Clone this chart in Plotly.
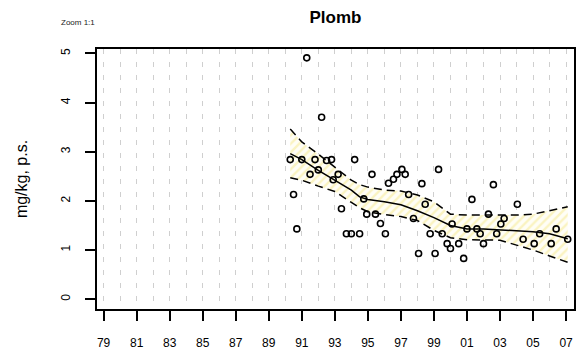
import plotly.graph_objects as go

# observations (decimal year, mg/kg p.s.)
obs_year = [1990.3, 1990.5, 1990.7, 1991.0, 1991.3, 1991.5, 1991.8, 1992.0, 1992.2, 1992.5,
            1992.8, 1992.9, 1993.2, 1993.4, 1993.7, 1994.0, 1994.2, 1994.5, 1994.75, 1994.93,
            1995.25, 1995.46, 1995.76, 1996.06, 1996.25, 1996.55, 1996.76, 1997.06, 1997.26, 1997.47,
            1997.76, 1998.07, 1998.27, 1998.47, 1998.77, 1999.07, 1999.28, 1999.5, 1999.8, 2000.0,
            2000.1, 2000.5, 2000.8, 2001.0, 2001.3, 2001.6, 2001.8, 2002.0, 2002.3, 2002.6,
            2002.8, 2003.05, 2003.25, 2004.05, 2004.4, 2005.07, 2005.4, 2006.1, 2006.4, 2007.1]
obs_value = [2.84, 2.13, 1.43, 2.84, 4.91, 2.54, 2.84, 2.63, 3.70, 2.82,
             2.84, 2.43, 2.54, 1.84, 1.33, 1.33, 2.84, 1.33, 2.04, 1.73,
             2.54, 1.73, 1.54, 1.33, 2.36, 2.44, 2.54, 2.64, 2.54, 2.13,
             1.64, 0.93, 2.35, 1.93, 1.33, 0.93, 2.64, 1.33, 1.13, 1.03,
             1.53, 1.13, 0.83, 1.43, 2.03, 1.43, 1.33, 1.13, 1.73, 2.33,
             1.33, 1.53, 1.64, 1.93, 1.22, 1.13, 1.33, 1.13, 1.43, 1.22]

# smoothed trend and confidence band
fit_year = [1990.3, 1991.0, 1992.0, 1993.0, 1994.0, 1994.5, 1995.0, 1996.0, 1997.0, 1998.0,
            1999.0, 2000.0, 2001.0, 2002.0, 2003.0, 2004.0, 2005.0, 2006.0, 2007.1]
fit_value = [2.96, 2.84, 2.62, 2.42, 2.22, 2.08, 2.03, 1.98, 1.92, 1.80,
             1.66, 1.50, 1.43, 1.43, 1.41, 1.40, 1.37, 1.33, 1.23]
upper_value = [3.46, 3.20, 2.95, 2.68, 2.42, 2.33, 2.28, 2.22, 2.20, 2.12,
               1.98, 1.73, 1.71, 1.71, 1.71, 1.71, 1.73, 1.80, 1.88]
lower_value = [2.47, 2.42, 2.30, 2.19, 1.97, 1.86, 1.78, 1.72, 1.68, 1.60,
               1.40, 1.25, 1.21, 1.21, 1.20, 1.10, 1.00, 0.88, 0.75]

tick_years = list(range(1979, 2008, 2))
tick_labels = ["%02d" % (y % 100) for y in tick_years]
y_ticks = [0, 1, 2, 3, 4, 5]

fig = go.Figure()
fig.add_trace(go.Scatter(x=fit_year, y=lower_value, mode="lines",
                         line=dict(width=0), hoverinfo="skip", showlegend=False))
fig.add_trace(go.Scatter(x=fit_year, y=upper_value, mode="lines", fill="tonexty",
                         line=dict(width=0), fillcolor="rgba(0,0,0,0)",
                         fillpattern=dict(shape="/", fgcolor="#f6e98c", bgcolor="#fffef6",
                                          size=6, solidity=0.4),
                         hoverinfo="skip", showlegend=False))
fig.add_trace(go.Scatter(x=fit_year, y=upper_value, mode="lines",
                         line=dict(color="black", width=1.5, dash="8px,5px"), showlegend=False))
fig.add_trace(go.Scatter(x=fit_year, y=lower_value, mode="lines",
                         line=dict(color="black", width=1.5, dash="8px,5px"), showlegend=False))
fig.add_trace(go.Scatter(x=fit_year, y=fit_value, mode="lines",
                         line=dict(color="black", width=1.5), showlegend=False))
fig.add_trace(go.Scatter(x=obs_year, y=obs_value, mode="markers",
                         marker=dict(symbol="circle-open", size=6, color="black",
                                     line=dict(width=1.6, color="black")),
                         showlegend=False))

font = "Liberation Sans, Arial, sans-serif"
fig.update_layout(
    width=587, height=354,
    margin=dict(l=87, r=21, t=41, b=47),
    paper_bgcolor="white", plot_bgcolor="white",
    font=dict(family=font, color="black"),
    title=dict(text="<b>Plomb</b>", x=0.5, xref="paper", y=1 - 9 / 354, yref="container",
               yanchor="middle", xanchor="center", font=dict(size=17, family=font)),
)
fig.add_annotation(text="Zoom 1:1", x=-38 / 479, y=1 + 27 / 265.4, xref="paper", yref="paper",
                   xanchor="left", yanchor="middle", showarrow=False,
                   font=dict(size=8, family=font, color="#222"))

fig.update_xaxes(
    range=[1978.6, 2007.48], tickmode="array", tickvals=tick_years, ticktext=tick_labels,
    ticks="outside", ticklen=10, tickwidth=1.5, tickcolor="black",
    showline=True, linecolor="black", linewidth=2, mirror=True,
    showgrid=True, gridcolor="#cfcfcf", gridwidth=1, griddash="5px,8px",
    minor=dict(dtick=1, tick0=1979, showgrid=True, gridcolor="#cfcfcf", gridwidth=1,
               griddash="5px,8px", ticks=""),
    tickfont=dict(size=12, family=font), ticklabelstandoff=12, zeroline=False,
)
fig.update_yaxes(
    range=[-0.2, 5.09], tickmode="array", tickvals=y_ticks,
    ticks="outside", ticklen=10, tickwidth=1.5, tickcolor="black",
    showline=True, linecolor="black", linewidth=2, mirror=True,
    showgrid=False, zeroline=False, tickangle=-90,
    tickfont=dict(size=12, family=font), ticklabelstandoff=10,
    title=dict(text="mg/kg, p.s.", font=dict(size=16, family=font), standoff=28),
)

fig.write_html("out.html")
